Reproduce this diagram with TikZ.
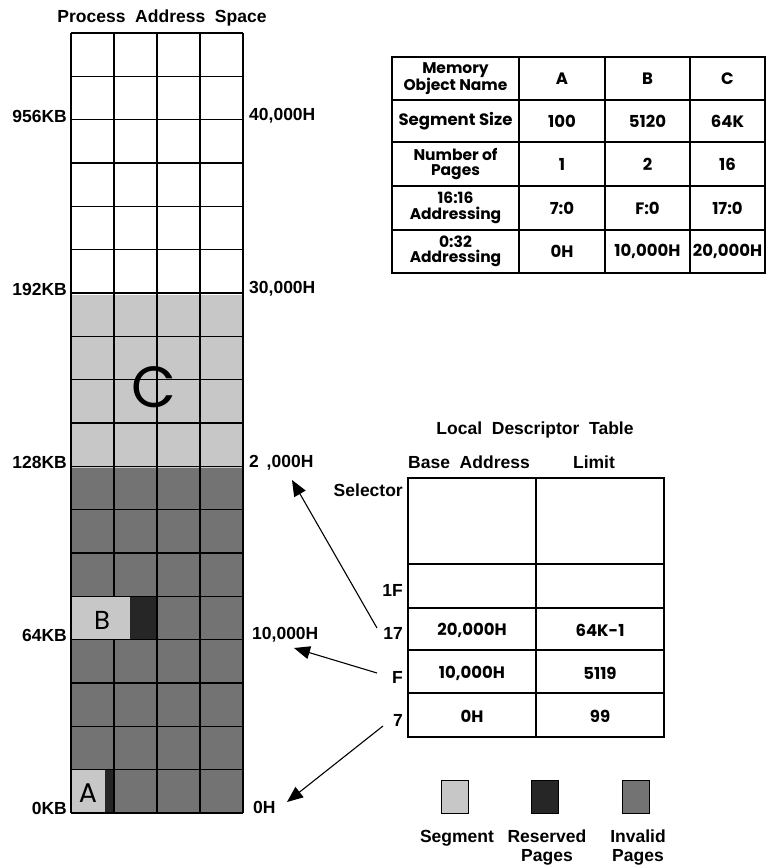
\documentclass[tikz,border=0pt]{standalone}
\usepackage{fontspec}
\setmainfont{Liberation Sans}
\newfontfamily\gothic{Poppins}
\usetikzlibrary{arrows.meta}
\begin{document}
\begin{tikzpicture}[x=1pt,y=-1pt,
  lab/.style={font=\fontsize{17.5}{19}\selectfont\bfseries, inner sep=0pt},
  cell/.style={font=\gothic\bfseries\fontsize{16.5}{15.5}\selectfont, align=center, inner sep=0pt},
  cellt/.style={font=\gothic\bfseries\fontsize{15.5}{15.5}\selectfont, align=center, inner sep=0pt},
  gridl/.style={line width=1.1pt},
  tbl/.style={line width=1.2pt},
  arr/.style={line width=1.1pt, -{Triangle[length=16pt,width=13pt]}},
  segfill/.style={fill=black!22},
  resfill/.style={fill=black!85},
  invfill/.style={fill=black!55},
  legbox/.style={draw, line width=0.6pt, minimum width=27pt, minimum height=33pt, inner sep=0pt},
]
\useasboundingbox (0,0) rectangle (767,865);

% ---------- Process address space ----------
\node[lab] (title) at (162,18) {Process\ \ Address\ \ Space};

\fill[invfill] (71,468) rectangle (243,813);
\fill[segfill] (71,295) rectangle (243,468);
\fill[segfill] (71,596.7) rectangle (130,640);
\fill[resfill] (130,596.7) rectangle (157,640);
\fill[segfill] (71,770) rectangle (105,813);
\fill[resfill] (105,770) rectangle (114,813);

\foreach \k in {0,...,18} \draw[gridl] (71,{33+43.333*\k}) -- (243,{33+43.333*\k});
\foreach \x in {71,157,200,243} \draw[gridl] (\x,33) -- (\x,813);
\draw[gridl] (114,33) -- (114,596.7);
\draw[gridl] (114,640) -- (114,813);

\node[font=\gothic\fontsize{58}{58}\selectfont, inner sep=0pt] (C) at (154,387) {C};
\node[font=\gothic\fontsize{26}{26}\selectfont, inner sep=0pt] (B) at (102,620) {B};
\node[font=\gothic\fontsize{27}{27}\selectfont, inner sep=0pt] (A) at (88,793) {A};

% left labels
\node[lab, anchor=east] (k956) at (67,116) {956KB};
\node[lab, anchor=east] (k192) at (67,289) {192KB};
\node[lab, anchor=east] (k128) at (67,462) {128KB};
\node[lab, anchor=east] (k64)  at (67,635) {64KB};
\node[lab, anchor=east] (k0)   at (67,808) {0KB};
% right labels
\node[lab, anchor=west] (h40) at (249,116) {40,000H};
\node[lab, anchor=west] (h30) at (249,289) {30,000H};
\node[lab, anchor=west] (h20) at (249,463) {2\ \,,000H};
\node[lab, anchor=west] (h10) at (252,635) {10,000H};
\node[lab, anchor=west] (h0)  at (253,807) {0H};

% ---------- Memory object table ----------
\draw[tbl] (392,57) rectangle (765,273);
\foreach \y in {100,142,186,230} \draw[tbl] (392,\y) -- (765,\y);
\foreach \x in {519,605,690} \draw[tbl] (\x,57) -- (\x,273);

\node[cellt] (m00) at (455.5,78.5) {Memory\\Object Name};
\node[cell] (m01) at (562,78.5) {A};
\node[cell] (m02) at (647.5,78.5) {B};
\node[cell] (m03) at (727.5,78.5) {C};
\node[cell] (m10) at (455.5,121) {Segment Size};
\node[cell] (m11) at (562,121) {100};
\node[cell] (m12) at (647.5,121) {5120};
\node[cell] (m13) at (727.5,121) {64K};
\node[cellt] (m20) at (455.5,164) {Number of\\Pages};
\node[cell] (m21) at (562,164) {1};
\node[cell] (m22) at (647.5,164) {2};
\node[cell] (m23) at (727.5,164) {16};
\node[cellt] (m30) at (455.5,208) {16:16\\Addressing};
\node[cell] (m31) at (562,208) {7:0};
\node[cell] (m32) at (647.5,208) {F:0};
\node[cell] (m33) at (727.5,208) {17:0};
\node[cellt] (m40) at (455.5,251.5) {0:32\\Addressing};
\node[cell] (m41) at (562,251.5) {0H};
\node[cell] (m42) at (647.5,251.5) {10,000H};
\node[cell] (m43) at (727.5,251.5) {20,000H};

% ---------- Local descriptor table ----------
\node[lab] (ldt) at (535,430) {Local\ \ Descriptor\ \ Table};
\node[lab] (base) at (469,462) {Base\ \ Address};
\node[lab] (limit) at (594,462) {Limit};

\draw[tbl] (408,478) rectangle (664,737);
\foreach \y in {564,608,650,693} \draw[tbl] (408,\y) -- (664,\y);
\draw[tbl] (536,478) -- (536,737);

\node[cell] (l17b) at (472,630) {20,000H};
\node[cell] (l17l) at (600,630) {64K-1};
\node[cell] (lFb) at (472,673) {10,000H};
\node[cell] (lFl) at (600,673) {5119};
\node[cell] (l7b) at (472,716) {0H};
\node[cell] (l7l) at (600,716) {99};

\node[lab, anchor=east] (sel) at (403,490) {Selector};
\node[lab, anchor=east] (s1F) at (403,590) {1F};
\node[lab, anchor=east] (s17) at (403,633) {17};
\node[lab, anchor=east] (sF)  at (403,677) {F};
\node[lab, anchor=east] (s7)  at (403,720) {7};

\coordinate (t17) at (377,628);
\coordinate (e17) at (292,480);
\coordinate (tF) at (377,673);
\coordinate (eF) at (294,648);
\coordinate (t7) at (383,726);
\coordinate (e7) at (287,802);
\draw[arr] (t17) -- (e17);
\draw[arr] (tF) -- (eF);
\draw[arr] (t7) -- (e7);

% ---------- Legend ----------
\node[legbox, segfill] (lgS) at (455,796.5) {};
\node[legbox, resfill] (lgR) at (545,796.5) {};
\node[legbox, invfill] (lgI) at (636,796.5) {};
\node[lab] (lgSt) at (457,838) {Segment};
\node[lab, align=center, anchor=north] (lgRt) at (547,830) {Reserved\\Pages};
\node[lab, align=center, anchor=north] (lgIt) at (638,830) {Invalid\\Pages};
\end{tikzpicture}
\end{document}
